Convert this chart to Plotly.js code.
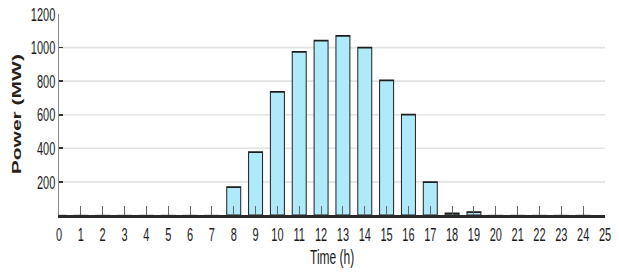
<!DOCTYPE html>
<html>
<head>
<meta charset="utf-8">
<script src="https://cdn.plot.ly/plotly-3.0.1.min.js"></script>
<style>
html,body{margin:0;padding:0;background:#fff;overflow:hidden;}
#wrap{width:619px;height:275px;overflow:hidden;}
#chart{width:619px;height:157px;transform:scaleY(1.7516);transform-origin:0 0;}
</style>
</head>
<body>
<div id="wrap"><div id="chart"></div></div>
<script>
const hours = [0,1,2,3,4,5,6,7,8,9,10,11,12,13,14,15,16,17,18,19,20,21,22,23,24];
const power = [1,1,1,1,1,1,1,1,168,377,736,974,1041,1069,999,805,601,198,12,20,1,1,1,1,1];
const xTicks = [0,1,2,3,4,5,6,7,8,9,10,11,12,13,14,15,16,17,18,19,20,21,22,23,24,25];
const yTicks = [200,400,600,800,1000,1200];
const xTitle = 'Time (h)';
const yTitle = 'Power (MW)';

const tickFont = {family: 'Arial, "Liberation Sans", sans-serif', size: 11, color: '#1a1a1a'};
const outline = power.map(v => v < 5 ? '#b4b4b4' : '#1e1e1e');

Plotly.newPlot('chart', [{
  type: 'bar',
  x: hours,
  y: power,
  width: 0.64,
  marker: {color: '#aeeaf9', line: {color: outline, width: 1}}
}], {
  width: 619, height: 157,
  margin: {l: 59, r: 14, t: 8, b: 34},
  paper_bgcolor: '#fff', plot_bgcolor: '#fff',
  showlegend: false,
  xaxis: {
    range: [0, 25],
    tickvals: xTicks,
    ticktext: xTicks.map(String),
    ticks: 'inside', ticklen: 5.5, tickcolor: '#666', tickwidth: 1,
    showgrid: false, zeroline: false,
    showline: true, linecolor: '#2a2a2a', linewidth: 1.2,
    tickfont: tickFont
  },
  yaxis: {
    range: [0, 1200],
    tickvals: yTicks,
    ticktext: yTicks.map(String),
    ticks: 'inside', ticklen: 4, tickcolor: '#333', tickwidth: 1,
    showgrid: true, gridcolor: '#e2e2e2', gridwidth: 0.9,
    zeroline: false,
    showline: true, linecolor: '#888', linewidth: 1.5,
    tickfont: tickFont
  },
  annotations: [
    {text: xTitle, xref: 'paper', yref: 'paper', x: 0.5, y: 0, xanchor: 'center', yanchor: 'middle',
     yshift: -24, showarrow: false, font: {family: 'Arial, "Liberation Sans", sans-serif', size: 12, color: '#1a1a1a'}},
    {text: '<b>' + yTitle + '</b>', xref: 'paper', yref: 'paper', x: 0, y: 0.5, xanchor: 'center', yanchor: 'middle',
     xshift: -42, textangle: -90, showarrow: false, font: {family: 'Arial, "Liberation Sans", sans-serif', size: 12, color: '#2a1f18'}}
  ]
}, {displayModeBar: false, staticPlot: true});
</script>
</body>
</html>
